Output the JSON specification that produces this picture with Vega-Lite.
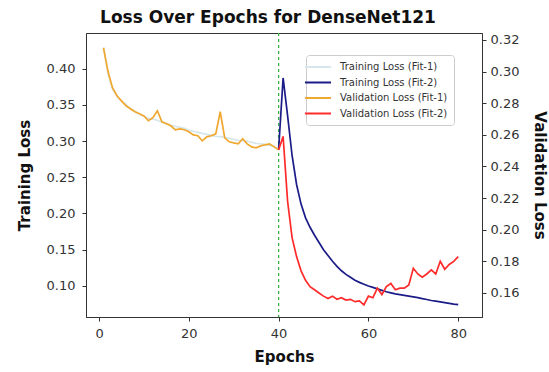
{
  "$schema": "https://vega.github.io/schema/vega-lite/v6.json",
  "width": 396,
  "height": 284,
  "autosize": "none",
  "padding": {"left": 86, "top": 33, "right": 67, "bottom": 55},
  "background": "white",
  "title": {"text": "Loss Over Epochs for DenseNet121", "font": "DejaVu Sans", "fontSize": 17, "fontWeight": "bold", "color": "#111", "anchor": "middle", "dx": -16, "offset": 5},
  "config": {
    "view": {"stroke": "#333", "strokeWidth": 1},
    "axis": {"grid": false, "labelFont": "DejaVu Sans", "labelFontSize": 13, "labelColor": "#333", "titleFont": "DejaVu Sans", "titleFontSize": 15, "titleFontWeight": "bold", "titleColor": "#111", "domainColor": "#333", "tickColor": "#333", "tickSize": 4, "labelPadding": 4},
    "legend": {"orient": "none", "legendX": 220, "legendY": 22, "fillColor": "white", "strokeColor": "#ccc", "cornerRadius": 3, "padding": 6, "labelFont": "DejaVu Sans", "labelFontSize": 10, "labelColor": "#333", "symbolType": "M-2.6,0L2.6,0", "symbolSize": 100, "symbolStrokeWidth": 2, "rowPadding": 4.5, "labelOffset": 16}
  },
  "datasets": {
    "train": [
      {"epoch": 1, "series": "Training Loss (Fit-1)", "loss": 0.4293},
      {"epoch": 2, "series": "Training Loss (Fit-1)", "loss": 0.3934},
      {"epoch": 3, "series": "Training Loss (Fit-1)", "loss": 0.3714},
      {"epoch": 4, "series": "Training Loss (Fit-1)", "loss": 0.3617},
      {"epoch": 5, "series": "Training Loss (Fit-1)", "loss": 0.3548},
      {"epoch": 6, "series": "Training Loss (Fit-1)", "loss": 0.3507},
      {"epoch": 7, "series": "Training Loss (Fit-1)", "loss": 0.3438},
      {"epoch": 8, "series": "Training Loss (Fit-1)", "loss": 0.3410},
      {"epoch": 9, "series": "Training Loss (Fit-1)", "loss": 0.3369},
      {"epoch": 10, "series": "Training Loss (Fit-1)", "loss": 0.3341},
      {"epoch": 11, "series": "Training Loss (Fit-1)", "loss": 0.3313},
      {"epoch": 12, "series": "Training Loss (Fit-1)", "loss": 0.3300},
      {"epoch": 13, "series": "Training Loss (Fit-1)", "loss": 0.3286},
      {"epoch": 14, "series": "Training Loss (Fit-1)", "loss": 0.3258},
      {"epoch": 15, "series": "Training Loss (Fit-1)", "loss": 0.3244},
      {"epoch": 16, "series": "Training Loss (Fit-1)", "loss": 0.3217},
      {"epoch": 17, "series": "Training Loss (Fit-1)", "loss": 0.3203},
      {"epoch": 18, "series": "Training Loss (Fit-1)", "loss": 0.3189},
      {"epoch": 19, "series": "Training Loss (Fit-1)", "loss": 0.3175},
      {"epoch": 20, "series": "Training Loss (Fit-1)", "loss": 0.3148},
      {"epoch": 21, "series": "Training Loss (Fit-1)", "loss": 0.3134},
      {"epoch": 22, "series": "Training Loss (Fit-1)", "loss": 0.3120},
      {"epoch": 23, "series": "Training Loss (Fit-1)", "loss": 0.3106},
      {"epoch": 24, "series": "Training Loss (Fit-1)", "loss": 0.3092},
      {"epoch": 25, "series": "Training Loss (Fit-1)", "loss": 0.3078},
      {"epoch": 26, "series": "Training Loss (Fit-1)", "loss": 0.3065},
      {"epoch": 27, "series": "Training Loss (Fit-1)", "loss": 0.3060},
      {"epoch": 28, "series": "Training Loss (Fit-1)", "loss": 0.3051},
      {"epoch": 29, "series": "Training Loss (Fit-1)", "loss": 0.3037},
      {"epoch": 30, "series": "Training Loss (Fit-1)", "loss": 0.3023},
      {"epoch": 31, "series": "Training Loss (Fit-1)", "loss": 0.3010},
      {"epoch": 32, "series": "Training Loss (Fit-1)", "loss": 0.3005},
      {"epoch": 33, "series": "Training Loss (Fit-1)", "loss": 0.2996},
      {"epoch": 34, "series": "Training Loss (Fit-1)", "loss": 0.2982},
      {"epoch": 35, "series": "Training Loss (Fit-1)", "loss": 0.2968},
      {"epoch": 36, "series": "Training Loss (Fit-1)", "loss": 0.2962},
      {"epoch": 37, "series": "Training Loss (Fit-1)", "loss": 0.2954},
      {"epoch": 38, "series": "Training Loss (Fit-1)", "loss": 0.2940},
      {"epoch": 39, "series": "Training Loss (Fit-1)", "loss": 0.2926},
      {"epoch": 40, "series": "Training Loss (Fit-1)", "loss": 0.2885},
      {"epoch": 40, "series": "Training Loss (Fit-2)", "loss": 0.2885},
      {"epoch": 41, "series": "Training Loss (Fit-2)", "loss": 0.387},
      {"epoch": 42, "series": "Training Loss (Fit-2)", "loss": 0.335},
      {"epoch": 43, "series": "Training Loss (Fit-2)", "loss": 0.28},
      {"epoch": 44, "series": "Training Loss (Fit-2)", "loss": 0.24},
      {"epoch": 45, "series": "Training Loss (Fit-2)", "loss": 0.213},
      {"epoch": 46, "series": "Training Loss (Fit-2)", "loss": 0.194},
      {"epoch": 47, "series": "Training Loss (Fit-2)", "loss": 0.181},
      {"epoch": 48, "series": "Training Loss (Fit-2)", "loss": 0.170},
      {"epoch": 49, "series": "Training Loss (Fit-2)", "loss": 0.160},
      {"epoch": 50, "series": "Training Loss (Fit-2)", "loss": 0.150},
      {"epoch": 51, "series": "Training Loss (Fit-2)", "loss": 0.142},
      {"epoch": 52, "series": "Training Loss (Fit-2)", "loss": 0.134},
      {"epoch": 53, "series": "Training Loss (Fit-2)", "loss": 0.127},
      {"epoch": 54, "series": "Training Loss (Fit-2)", "loss": 0.121},
      {"epoch": 55, "series": "Training Loss (Fit-2)", "loss": 0.116},
      {"epoch": 56, "series": "Training Loss (Fit-2)", "loss": 0.112},
      {"epoch": 57, "series": "Training Loss (Fit-2)", "loss": 0.108},
      {"epoch": 58, "series": "Training Loss (Fit-2)", "loss": 0.105},
      {"epoch": 59, "series": "Training Loss (Fit-2)", "loss": 0.1025},
      {"epoch": 60, "series": "Training Loss (Fit-2)", "loss": 0.100},
      {"epoch": 61, "series": "Training Loss (Fit-2)", "loss": 0.098},
      {"epoch": 62, "series": "Training Loss (Fit-2)", "loss": 0.096},
      {"epoch": 63, "series": "Training Loss (Fit-2)", "loss": 0.094},
      {"epoch": 64, "series": "Training Loss (Fit-2)", "loss": 0.092},
      {"epoch": 65, "series": "Training Loss (Fit-2)", "loss": 0.0905},
      {"epoch": 66, "series": "Training Loss (Fit-2)", "loss": 0.089},
      {"epoch": 67, "series": "Training Loss (Fit-2)", "loss": 0.088},
      {"epoch": 68, "series": "Training Loss (Fit-2)", "loss": 0.087},
      {"epoch": 69, "series": "Training Loss (Fit-2)", "loss": 0.086},
      {"epoch": 70, "series": "Training Loss (Fit-2)", "loss": 0.085},
      {"epoch": 71, "series": "Training Loss (Fit-2)", "loss": 0.084},
      {"epoch": 72, "series": "Training Loss (Fit-2)", "loss": 0.0825},
      {"epoch": 73, "series": "Training Loss (Fit-2)", "loss": 0.0813},
      {"epoch": 74, "series": "Training Loss (Fit-2)", "loss": 0.080},
      {"epoch": 75, "series": "Training Loss (Fit-2)", "loss": 0.079},
      {"epoch": 76, "series": "Training Loss (Fit-2)", "loss": 0.078},
      {"epoch": 77, "series": "Training Loss (Fit-2)", "loss": 0.077},
      {"epoch": 78, "series": "Training Loss (Fit-2)", "loss": 0.076},
      {"epoch": 79, "series": "Training Loss (Fit-2)", "loss": 0.075},
      {"epoch": 80, "series": "Training Loss (Fit-2)", "loss": 0.0742}
    ],
    "val": [
      {"epoch": 1, "series": "Validation Loss (Fit-1)", "loss": 0.315},
      {"epoch": 2, "series": "Validation Loss (Fit-1)", "loss": 0.300},
      {"epoch": 3, "series": "Validation Loss (Fit-1)", "loss": 0.2898},
      {"epoch": 4, "series": "Validation Loss (Fit-1)", "loss": 0.2847},
      {"epoch": 5, "series": "Validation Loss (Fit-1)", "loss": 0.2815},
      {"epoch": 6, "series": "Validation Loss (Fit-1)", "loss": 0.2784},
      {"epoch": 7, "series": "Validation Loss (Fit-1)", "loss": 0.2765},
      {"epoch": 8, "series": "Validation Loss (Fit-1)", "loss": 0.2746},
      {"epoch": 9, "series": "Validation Loss (Fit-1)", "loss": 0.2733},
      {"epoch": 10, "series": "Validation Loss (Fit-1)", "loss": 0.272},
      {"epoch": 11, "series": "Validation Loss (Fit-1)", "loss": 0.2689},
      {"epoch": 12, "series": "Validation Loss (Fit-1)", "loss": 0.2708},
      {"epoch": 13, "series": "Validation Loss (Fit-1)", "loss": 0.2752},
      {"epoch": 14, "series": "Validation Loss (Fit-1)", "loss": 0.2682},
      {"epoch": 15, "series": "Validation Loss (Fit-1)", "loss": 0.2670},
      {"epoch": 16, "series": "Validation Loss (Fit-1)", "loss": 0.2657},
      {"epoch": 17, "series": "Validation Loss (Fit-1)", "loss": 0.2632},
      {"epoch": 18, "series": "Validation Loss (Fit-1)", "loss": 0.2638},
      {"epoch": 19, "series": "Validation Loss (Fit-1)", "loss": 0.2632},
      {"epoch": 20, "series": "Validation Loss (Fit-1)", "loss": 0.2619},
      {"epoch": 21, "series": "Validation Loss (Fit-1)", "loss": 0.260},
      {"epoch": 22, "series": "Validation Loss (Fit-1)", "loss": 0.2594},
      {"epoch": 23, "series": "Validation Loss (Fit-1)", "loss": 0.2562},
      {"epoch": 24, "series": "Validation Loss (Fit-1)", "loss": 0.2587},
      {"epoch": 25, "series": "Validation Loss (Fit-1)", "loss": 0.2594},
      {"epoch": 26, "series": "Validation Loss (Fit-1)", "loss": 0.2606},
      {"epoch": 27, "series": "Validation Loss (Fit-1)", "loss": 0.2746},
      {"epoch": 28, "series": "Validation Loss (Fit-1)", "loss": 0.2581},
      {"epoch": 29, "series": "Validation Loss (Fit-1)", "loss": 0.2556},
      {"epoch": 30, "series": "Validation Loss (Fit-1)", "loss": 0.2549},
      {"epoch": 31, "series": "Validation Loss (Fit-1)", "loss": 0.2543},
      {"epoch": 32, "series": "Validation Loss (Fit-1)", "loss": 0.2575},
      {"epoch": 33, "series": "Validation Loss (Fit-1)", "loss": 0.2543},
      {"epoch": 34, "series": "Validation Loss (Fit-1)", "loss": 0.2524},
      {"epoch": 35, "series": "Validation Loss (Fit-1)", "loss": 0.2518},
      {"epoch": 36, "series": "Validation Loss (Fit-1)", "loss": 0.253},
      {"epoch": 37, "series": "Validation Loss (Fit-1)", "loss": 0.2537},
      {"epoch": 38, "series": "Validation Loss (Fit-1)", "loss": 0.2543},
      {"epoch": 39, "series": "Validation Loss (Fit-1)", "loss": 0.2524},
      {"epoch": 40, "series": "Validation Loss (Fit-1)", "loss": 0.2505},
      {"epoch": 40, "series": "Validation Loss (Fit-2)", "loss": 0.2505},
      {"epoch": 41, "series": "Validation Loss (Fit-2)", "loss": 0.259},
      {"epoch": 42, "series": "Validation Loss (Fit-2)", "loss": 0.218},
      {"epoch": 43, "series": "Validation Loss (Fit-2)", "loss": 0.195},
      {"epoch": 44, "series": "Validation Loss (Fit-2)", "loss": 0.183},
      {"epoch": 45, "series": "Validation Loss (Fit-2)", "loss": 0.174},
      {"epoch": 46, "series": "Validation Loss (Fit-2)", "loss": 0.168},
      {"epoch": 47, "series": "Validation Loss (Fit-2)", "loss": 0.164},
      {"epoch": 48, "series": "Validation Loss (Fit-2)", "loss": 0.162},
      {"epoch": 49, "series": "Validation Loss (Fit-2)", "loss": 0.160},
      {"epoch": 50, "series": "Validation Loss (Fit-2)", "loss": 0.158},
      {"epoch": 51, "series": "Validation Loss (Fit-2)", "loss": 0.1565},
      {"epoch": 52, "series": "Validation Loss (Fit-2)", "loss": 0.158},
      {"epoch": 53, "series": "Validation Loss (Fit-2)", "loss": 0.156},
      {"epoch": 54, "series": "Validation Loss (Fit-2)", "loss": 0.157},
      {"epoch": 55, "series": "Validation Loss (Fit-2)", "loss": 0.1555},
      {"epoch": 56, "series": "Validation Loss (Fit-2)", "loss": 0.156},
      {"epoch": 57, "series": "Validation Loss (Fit-2)", "loss": 0.1545},
      {"epoch": 58, "series": "Validation Loss (Fit-2)", "loss": 0.155},
      {"epoch": 59, "series": "Validation Loss (Fit-2)", "loss": 0.1525},
      {"epoch": 60, "series": "Validation Loss (Fit-2)", "loss": 0.158},
      {"epoch": 61, "series": "Validation Loss (Fit-2)", "loss": 0.157},
      {"epoch": 62, "series": "Validation Loss (Fit-2)", "loss": 0.163},
      {"epoch": 63, "series": "Validation Loss (Fit-2)", "loss": 0.159},
      {"epoch": 64, "series": "Validation Loss (Fit-2)", "loss": 0.164},
      {"epoch": 65, "series": "Validation Loss (Fit-2)", "loss": 0.166},
      {"epoch": 66, "series": "Validation Loss (Fit-2)", "loss": 0.162},
      {"epoch": 67, "series": "Validation Loss (Fit-2)", "loss": 0.163},
      {"epoch": 68, "series": "Validation Loss (Fit-2)", "loss": 0.163},
      {"epoch": 69, "series": "Validation Loss (Fit-2)", "loss": 0.165},
      {"epoch": 70, "series": "Validation Loss (Fit-2)", "loss": 0.1756},
      {"epoch": 71, "series": "Validation Loss (Fit-2)", "loss": 0.172},
      {"epoch": 72, "series": "Validation Loss (Fit-2)", "loss": 0.170},
      {"epoch": 73, "series": "Validation Loss (Fit-2)", "loss": 0.172},
      {"epoch": 74, "series": "Validation Loss (Fit-2)", "loss": 0.1746},
      {"epoch": 75, "series": "Validation Loss (Fit-2)", "loss": 0.172},
      {"epoch": 76, "series": "Validation Loss (Fit-2)", "loss": 0.180},
      {"epoch": 77, "series": "Validation Loss (Fit-2)", "loss": 0.175},
      {"epoch": 78, "series": "Validation Loss (Fit-2)", "loss": 0.178},
      {"epoch": 79, "series": "Validation Loss (Fit-2)", "loss": 0.180},
      {"epoch": 80, "series": "Validation Loss (Fit-2)", "loss": 0.183}
    ],
    "split": [{"epoch": 40}]
  },
  "layer": [
    {
      "data": {"name": "split"},
      "mark": {"type": "rule", "color": "#3cb043", "strokeDash": [3, 3], "strokeWidth": 1.3},
      "encoding": {
        "x": {"field": "epoch", "type": "quantitative", "scale": {"domain": [-2.9, 85.3], "nice": false, "zero": false}}
      }
    },
    {
      "data": {"name": "train"},
      "mark": {"type": "line", "strokeWidth": 1.7},
      "encoding": {
        "x": {"field": "epoch", "type": "quantitative", "title": "Epochs", "scale": {"domain": [-2.9, 85.3], "nice": false, "zero": false}, "axis": {"values": [0, 20, 40, 60, 80], "labelPadding": 6, "titlePadding": 9}},
        "y": {"field": "loss", "type": "quantitative", "title": "Training Loss", "scale": {"domain": [0.0572, 0.449], "nice": false, "zero": false}, "axis": {"orient": "left", "values": [0.1, 0.15, 0.2, 0.25, 0.3, 0.35, 0.4], "format": ".2f", "labelPadding": 7, "titlePadding": 14}},
        "color": {"field": "series", "type": "nominal", "scale": {"domain": ["Training Loss (Fit-1)", "Training Loss (Fit-2)", "Validation Loss (Fit-1)", "Validation Loss (Fit-2)"], "range": ["#d6e6ea", "#1c1c88", "#f0a830", "#ff2a2a"]}, "legend": {"title": null}}
      }
    },
    {
      "data": {"name": "val"},
      "mark": {"type": "line", "strokeWidth": 1.7},
      "encoding": {
        "x": {"field": "epoch", "type": "quantitative", "scale": {"domain": [-2.9, 85.3], "nice": false, "zero": false}},
        "y": {"field": "loss", "type": "quantitative", "title": "Validation Loss", "scale": {"domain": [0.1448, 0.3244], "nice": false, "zero": false}, "axis": {"orient": "right", "values": [0.16, 0.18, 0.2, 0.22, 0.24, 0.26, 0.28, 0.3, 0.32], "format": ".2f", "titlePadding": 13}},
        "color": {"field": "series", "type": "nominal", "scale": {"domain": ["Training Loss (Fit-1)", "Training Loss (Fit-2)", "Validation Loss (Fit-1)", "Validation Loss (Fit-2)"], "range": ["#d6e6ea", "#1c1c88", "#f0a830", "#ff2a2a"]}, "legend": {"title": null}}
      }
    }
  ],
  "resolve": {"scale": {"y": "independent"}}
}
